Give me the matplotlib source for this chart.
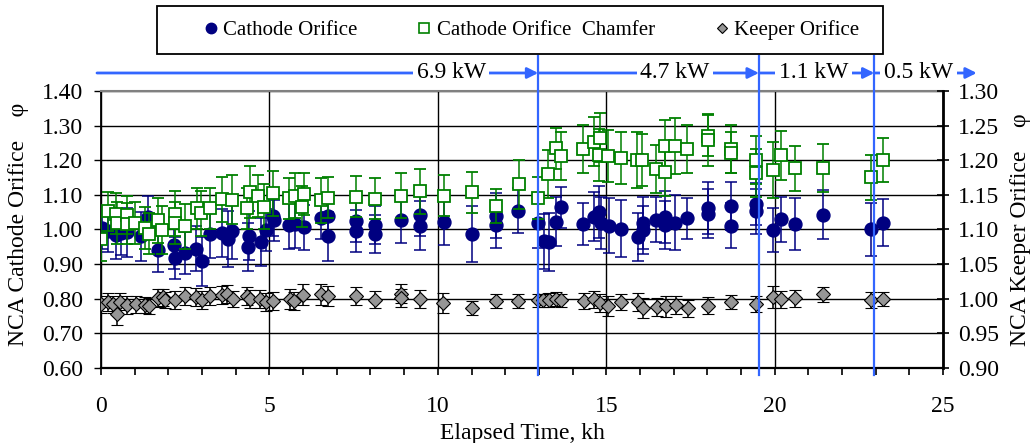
import matplotlib
matplotlib.use('Agg')
import matplotlib.pyplot as plt
import matplotlib.transforms as mtransforms
from matplotlib.lines import Line2D
from matplotlib.patches import Rectangle
from matplotlib.ticker import MultipleLocator, FormatStrFormatter

plt.rcParams['font.family'] = ['Liberation Serif', 'DejaVu Serif']

# ---------------- data ----------------
cathode_t = [0.04, 0.22, 0.43, 0.60, 0.78, 1.20, 1.40, 1.70, 2.17, 2.19, 2.49, 2.83, 3.00, 3.23, 3.58,
             3.77, 3.89, 4.35, 4.40, 4.74, 4.91, 5.11, 5.13, 5.58, 5.77, 6.04, 6.54, 6.74, 6.74, 7.56,
             7.56, 8.12, 8.12, 8.91, 9.48, 9.48, 10.17, 11.00, 11.72, 11.72, 12.39, 12.96, 13.14, 13.30,
             13.51, 13.65, 14.31, 14.64, 14.79, 14.85, 15.07, 15.43, 15.93, 16.08, 16.08, 16.49, 16.74,
             16.74, 17.05, 17.40, 18.02, 18.02, 18.71, 18.71, 19.45, 19.45, 19.95, 20.19, 20.59, 21.45,
             22.86, 23.21]
cathode_phi = [1.005, 0.995, 0.984, 0.990, 0.992, 0.980, 1.037, 0.942, 0.955, 0.918, 0.932, 0.945, 0.908,
               0.988, 0.990, 0.973, 0.996, 0.950, 0.982, 0.964, 0.998, 1.040, 1.026, 1.013, 1.017, 1.006,
               1.032, 1.040, 0.980, 1.025, 0.995, 1.013, 0.987, 1.027, 1.042, 1.011, 1.021, 0.987, 1.040,
               1.012, 1.054, 1.018, 0.966, 0.964, 1.023, 1.064, 1.016, 1.037, 1.051, 1.018, 1.011, 1.002,
               0.978, 1.019, 0.998, 1.028, 1.037, 1.013, 1.020, 1.032, 1.061, 1.046, 1.068, 1.011, 1.073,
               1.052, 0.998, 1.029, 1.015, 1.043, 1.000, 1.019]
cathode_err = [0.060, 0.060, 0.070, 0.065, 0.070, 0.070, 0.060, 0.065, 0.070, 0.060,
               0.060, 0.065, 0.070, 0.070, 0.070, 0.080, 0.080, 0.070, 0.070, 0.070,
               0.060, 0.060, 0.060, 0.070, 0.070, 0.065, 0.060, 0.060, 0.070, 0.060,
               0.060, 0.055, 0.055, 0.065, 0.060, 0.070, 0.065, 0.080, 0.065, 0.065,
               0.065, 0.070, 0.080, 0.085, 0.070, 0.060, 0.060, 0.070, 0.075, 0.075,
               0.080, 0.082, 0.070, 0.075, 0.070, 0.065, 0.075, 0.070, 0.080, 0.060,
               0.075, 0.070, 0.070, 0.065, 0.060, 0.065, 0.063, 0.065, 0.075, 0.070,
               0.077, 0.068]

chamfer_t = [0.00, 0.22, 0.43, 0.46, 0.76, 0.76, 1.01, 1.30, 1.42, 1.68, 1.82, 2.19, 2.19, 2.48, 2.85,
             2.97, 3.23, 3.58, 3.90, 4.32, 4.41, 4.66, 4.84, 5.11, 5.58, 5.75, 5.97, 6.04, 6.54, 6.74,
             7.56, 8.12, 8.91, 9.48, 10.17, 11.00, 11.74, 12.40, 12.96, 13.28, 13.52, 13.65, 14.31,
             14.64, 14.81, 14.79, 15.04, 15.43, 15.92, 16.07, 16.47, 16.74, 16.74, 17.04, 17.40, 18.02,
             18.02, 18.70, 18.70, 19.44, 19.44, 19.95, 20.19, 20.59, 21.45, 22.86, 23.21]
chamfer_phi = [0.973, 1.052, 1.046, 1.019, 1.043, 1.017, 1.019, 1.004, 0.988, 1.027, 0.998, 1.046, 1.018,
               1.010, 1.061, 1.047, 1.061, 1.088, 1.086, 1.061, 1.107, 1.097, 1.066, 1.104, 1.090, 1.097,
               1.066, 1.102, 1.085, 1.092, 1.095, 1.089, 1.098, 1.111, 1.098, 1.107, 1.068, 1.130, 1.091,
               1.160, 1.234, 1.212, 1.232, 1.254, 1.265, 1.214, 1.213, 1.206, 1.201, 1.201, 1.174, 1.241,
               1.166, 1.241, 1.232, 1.271, 1.258, 1.233, 1.222, 1.200, 1.163, 1.172, 1.214, 1.177, 1.177,
               1.151, 1.200]
chamfer_err = [0.065, 0.055, 0.060, 0.060, 0.055, 0.060, 0.060, 0.060, 0.060, 0.065,
               0.070, 0.065, 0.060, 0.065, 0.060, 0.065, 0.060, 0.065, 0.070, 0.060,
               0.075, 0.060, 0.065, 0.065, 0.060, 0.065, 0.060, 0.060, 0.065, 0.060,
               0.060, 0.060, 0.065, 0.065, 0.060, 0.060, 0.050, 0.070, 0.060, 0.070,
               0.060, 0.070, 0.070, 0.070, 0.070, 0.075, 0.075, 0.075, 0.080, 0.075,
               0.070, 0.075, 0.070, 0.080, 0.070, 0.060, 0.075, 0.070, 0.060, 0.070,
               0.070, 0.080, 0.070, 0.065, 0.069, 0.065, 0.064]

keeper_t = [0.00, 0.22, 0.37, 0.46, 0.56, 0.78, 1.03, 1.30, 1.43, 1.70, 1.83, 1.90, 2.19, 2.49, 2.83,
            3.01, 3.23, 3.58, 3.73, 3.92, 4.32, 4.41, 4.71, 4.91, 5.11, 5.60, 5.72, 6.00, 6.54, 6.74,
            7.56, 8.12, 8.91, 8.91, 9.48, 10.16, 11.00, 11.72, 12.39, 12.96, 13.13, 13.30, 13.50, 13.65,
            14.34, 14.64, 14.80, 15.06, 15.45, 15.95, 16.09, 16.51, 16.76, 17.06, 17.43, 18.02, 18.71,
            19.44, 19.94, 20.19, 20.59, 21.45, 22.86, 23.23]
keeper_phi = [0.992, 0.995, 0.992, 0.9785, 0.996, 0.9915, 0.992, 0.991, 0.9895, 1.001,
              1.002, 0.998, 0.9985, 1.0035, 1.003, 0.998, 1.0035, 1.005, 1.0075, 0.9995,
              1.0035, 0.9995, 0.999, 0.995, 0.9965, 0.9995, 0.9965, 1.006, 1.0065, 1.004,
              1.0035, 0.9985, 1.0075, 1.0005, 1.000, 0.994, 0.987, 0.9965, 0.9965, 0.9975,
              0.9975, 0.998, 0.9995, 0.9975, 0.9965, 0.999, 0.9935, 0.9895, 0.9955, 0.9955,
              0.9865, 0.9875, 0.989, 0.9915, 0.986, 0.990, 0.9955, 0.9925, 1.002, 0.999,
              1.0005, 1.0065, 0.998, 1.000]
keeper_err = [0.012, 0.013, 0.012, 0.016, 0.012, 0.013, 0.012, 0.012, 0.012, 0.013,
              0.012, 0.012, 0.013, 0.013, 0.013, 0.013, 0.013, 0.013, 0.013, 0.012,
              0.013, 0.013, 0.013, 0.013, 0.013, 0.014, 0.013, 0.015, 0.015, 0.015,
              0.013, 0.012, 0.014, 0.013, 0.013, 0.015, 0.010, 0.010, 0.010, 0.010,
              0.010, 0.010, 0.010, 0.010, 0.012, 0.012, 0.013, 0.015, 0.012, 0.013,
              0.014, 0.013, 0.015, 0.013, 0.012, 0.012, 0.010, 0.012, 0.016, 0.012,
              0.012, 0.011, 0.012, 0.010]

power_change_t = [12.98, 19.53, 22.96]
power_labels = ['6.9 kW', '4.7 kW', '1.1 kW', '0.5 kW']
power_label_t = [10.40, 17.04, 21.16, 24.27]
arrow_start_t = -0.12
arrow_end_t = 26.0

series_names = ['Cathode Orifice', 'Cathode Orifice  Chamfer', 'Keeper Orifice']

# ---------------- style ----------------
NAVY = '#000080'
GREEN = '#008000'
GRAY = '#969696'
BLUE = '#3366FF'
FS = 17

fig = plt.figure(figsize=(10.31, 4.43), dpi=100)
ax = fig.add_axes([0.098, 0.1693, 0.8167, 0.6253])
ax2 = ax.twinx()

ax.set_xlim(0, 25)
ax.set_ylim(0.6, 1.4)
ax2.set_ylim(0.9, 1.3)

ax.errorbar(cathode_t, cathode_phi, yerr=cathode_err, fmt='o', color=NAVY, ecolor=NAVY,
            markersize=9.3, elinewidth=1.1, capsize=4, capthick=1.1, zorder=3)
ax.errorbar(chamfer_t, chamfer_phi, yerr=chamfer_err, fmt='s', color=GREEN, ecolor=GREEN,
            markerfacecolor='white', markeredgecolor=GREEN, markeredgewidth=1.3,
            markersize=9, elinewidth=1.1, capsize=4, capthick=1.1, zorder=4)
ax2.errorbar(keeper_t, keeper_phi, yerr=keeper_err, fmt='D', color='black', ecolor='black',
             markerfacecolor=GRAY, markeredgecolor='black', markeredgewidth=0.8,
             markersize=6.8, elinewidth=1.1, capsize=4, capthick=1.1, zorder=3)

# grid & axes styling
ax.xaxis.set_major_locator(MultipleLocator(5))
ax.xaxis.set_minor_locator(MultipleLocator(1))
ax.yaxis.set_major_locator(MultipleLocator(0.1))
ax.yaxis.set_major_formatter(FormatStrFormatter('%.2f'))
ax2.yaxis.set_major_locator(MultipleLocator(0.05))
ax2.yaxis.set_major_formatter(FormatStrFormatter('%.2f'))
ax.grid(True, which='major', color='black', linewidth=1.0)
ax.set_axisbelow(True)

for s in ['left', 'bottom']:
    ax.spines[s].set_color('black')
ax.spines['left'].set_linewidth(1.3)
ax.spines['bottom'].set_linewidth(1.6)
ax.spines['top'].set_color('#808080')
ax.spines['top'].set_linewidth(1.5)
ax.spines['right'].set_visible(False)
ax2.spines['left'].set_visible(False)
ax2.spines['top'].set_visible(False)
ax2.spines['bottom'].set_visible(False)
ax2.spines['right'].set_color('black')
ax2.spines['right'].set_linewidth(2.0)

ax.tick_params(axis='x', which='both', direction='out', length=5, width=1.2, labelsize=FS, pad=15)
ax.tick_params(axis='y', direction='out', length=5, width=1.0, labelsize=FS, pad=8)
ax2.tick_params(axis='y', direction='inout', length=8, width=1.2, labelsize=FS, pad=7)

ax.set_xlabel('Elapsed Time, kh', fontsize=FS)
ax.xaxis.set_label_coords(0.5, -0.198)
ax.set_ylabel('NCA Cathode Orifice    \u03c6', fontsize=FS)
ax.yaxis.set_label_coords(-0.085, 0.52)
ax2.set_ylabel('NCA Keeper Orifice    \u03c6', fontsize=FS, rotation=90)
ax2.yaxis.set_label_coords(1.079, 0.5)

# power-level markers
trans = mtransforms.blended_transform_factory(ax2.transData, ax2.transAxes)
for t in power_change_t:
    ax2.plot([t, t], [-0.025, 1.126], color=BLUE, lw=1.6, transform=trans, clip_on=False, zorder=10)

seg_edges = [arrow_start_t] + power_change_t + [arrow_end_t]
ya = 1.065
for i, lab in enumerate(power_labels):
    ax2.annotate('', xy=(seg_edges[i + 1], ya), xytext=(seg_edges[i], ya), xycoords=trans,
                 textcoords=trans,
                 arrowprops=dict(arrowstyle='-|>', color=BLUE, lw=2.0, mutation_scale=16,
                                 shrinkA=0, shrinkB=0), annotation_clip=False, zorder=11)
    ax2.text(power_label_t[i], ya, lab, transform=trans, ha='center', va='center', fontsize=FS,
             bbox=dict(facecolor='white', edgecolor='none', pad=2.5), zorder=12, clip_on=False)

# legend
fig.patches.append(Rectangle((0.152, 0.878), 0.704, 0.108, transform=fig.transFigure,
                             facecolor='white', edgecolor='black', linewidth=1.3))
handles = [Line2D([], [], marker='o', linestyle='none', color=NAVY, markersize=7.5),
           Line2D([], [], marker='s', linestyle='none', markerfacecolor='white', markeredgecolor=GREEN,
                  markeredgewidth=1.2, markersize=7.5),
           Line2D([], [], marker='D', linestyle='none', markerfacecolor=GRAY, markeredgecolor='black',
                  markeredgewidth=0.8, markersize=5.5)]
fig.legend(handles, series_names, loc='center', bbox_to_anchor=(0.515, 0.932), ncol=3,
           frameon=False, fontsize=15, handlelength=0.8, handletextpad=0.2, columnspacing=2.8)

fig.savefig('out.png', dpi=100)
